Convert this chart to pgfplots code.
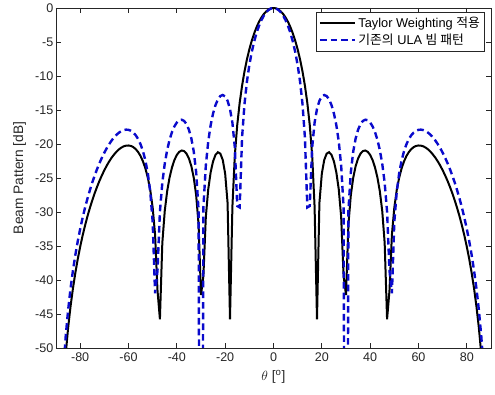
\documentclass[border=0pt]{standalone}
\usepackage{fontspec}
\setmainfont{Liberation Sans}
\newfontfamily\kr{Noto Sans CJK KR}
\usepackage{pgfplots}
\usepackage{pgfplotstable}
\pgfplotsset{compat=1.18}
\definecolor{axgray}{rgb}{0.15,0.15,0.15}
\definecolor{ulablue}{rgb}{0.04,0.04,0.8}

\pgfplotstableread{
t u p
-89 -72.40 -75.00
-88 -60.39 -63.01
-87 -53.34 -55.97
-86 -48.35 -50.97
-85 -44.47 -47.10
-84 -41.31 -43.94
-83 -38.64 -41.27
-82 -36.33 -38.96
-81 -34.31 -36.93
-80 -32.50 -35.12
-79 -30.87 -33.49
-78 -29.39 -32.01
-77 -28.05 -30.66
-76 -26.82 -29.43
-75 -25.68 -28.30
-74 -24.65 -27.25
-73 -23.69 -26.29
-72 -22.81 -25.41
-71 -22.01 -24.60
-70 -21.28 -23.86
-69 -20.62 -23.18
-68 -20.03 -22.57
-67 -19.50 -22.03
-66 -19.04 -21.56
-65 -18.66 -21.15
-64 -18.35 -20.81
-63 -18.11 -20.54
-62 -17.96 -20.35
-61 -17.89 -20.24
-60 -17.92 -20.22
-59 -18.06 -20.29
-58 -18.32 -20.46
-57 -18.72 -20.76
-56 -19.28 -21.19
-55 -20.05 -21.78
-54 -21.07 -22.57
-53 -22.45 -23.60
-52 -24.32 -24.96
-51 -27.03 -26.78
-50 -31.43 -29.35
-49 -41.96 -33.33
-48 -38.64 -41.53
-47 -29.95 -45.77
-46 -25.69 -34.54
-45 -22.90 -29.86
-44 -20.89 -26.95
-43 -19.38 -24.92
-42 -18.24 -23.44
-41 -17.41 -22.36
-40 -16.84 -21.61
-39 -16.51 -21.15
-38 -16.43 -20.96
-37 -16.61 -21.04
-36 -17.08 -21.42
-35 -17.90 -22.13
-34 -19.18 -23.25
-33 -21.10 -24.95
-32 -24.14 -27.53
-31 -29.78 -31.84
-30 -150.00 -42.20
-29 -29.28 -39.39
-28 -23.15 -30.72
-27 -19.62 -26.65
-26 -17.23 -24.16
-25 -15.51 -22.55
-24 -14.28 -21.60
-23 -13.44 -21.21
-22 -12.95 -21.42
-21 -12.80 -22.34
-20 -13.01 -24.36
-19 -13.65 -28.67
-18 -14.85 -45.78
-17 -16.88 -29.18
-16 -20.51 -21.66
-15 -29.12 -17.20
-14 -29.33 -13.96
-13 -19.03 -11.42
-12 -14.13 -9.33
-11 -10.85 -7.58
-10 -8.41 -6.09
-9 -6.48 -4.82
-8 -4.93 -3.74
-7 -3.66 -2.82
-6 -2.62 -2.04
-5 -1.79 -1.40
-4 -1.13 -0.89
-3 -0.63 -0.50
-2 -0.28 -0.22
-1 -0.07 -0.05
0 0.00 0.00
1 -0.07 -0.05
2 -0.28 -0.22
3 -0.63 -0.50
4 -1.13 -0.89
5 -1.79 -1.40
6 -2.62 -2.04
7 -3.66 -2.82
8 -4.93 -3.74
9 -6.48 -4.82
10 -8.41 -6.09
11 -10.85 -7.58
12 -14.13 -9.33
13 -19.03 -11.42
14 -29.33 -13.96
15 -29.12 -17.20
16 -20.51 -21.66
17 -16.88 -29.18
18 -14.85 -45.78
19 -13.65 -28.67
20 -13.01 -24.36
21 -12.80 -22.34
22 -12.95 -21.42
23 -13.44 -21.21
24 -14.28 -21.60
25 -15.51 -22.55
26 -17.23 -24.16
27 -19.62 -26.65
28 -23.15 -30.72
29 -29.28 -39.39
30 -150.00 -42.20
31 -29.78 -31.84
32 -24.14 -27.53
33 -21.10 -24.95
34 -19.18 -23.25
35 -17.90 -22.13
36 -17.08 -21.42
37 -16.61 -21.04
38 -16.43 -20.96
39 -16.51 -21.15
40 -16.84 -21.61
41 -17.41 -22.36
42 -18.24 -23.44
43 -19.38 -24.92
44 -20.89 -26.95
45 -22.90 -29.86
46 -25.69 -34.54
47 -29.95 -45.77
48 -38.64 -41.53
49 -41.96 -33.33
50 -31.43 -29.35
51 -27.03 -26.78
52 -24.32 -24.96
53 -22.45 -23.60
54 -21.07 -22.57
55 -20.05 -21.78
56 -19.28 -21.19
57 -18.72 -20.76
58 -18.32 -20.46
59 -18.06 -20.29
60 -17.92 -20.22
61 -17.89 -20.24
62 -17.96 -20.35
63 -18.11 -20.54
64 -18.35 -20.81
65 -18.66 -21.15
66 -19.04 -21.56
67 -19.50 -22.03
68 -20.03 -22.57
69 -20.62 -23.18
70 -21.28 -23.86
71 -22.01 -24.60
72 -22.81 -25.41
73 -23.69 -26.29
74 -24.65 -27.25
75 -25.68 -28.30
76 -26.82 -29.43
77 -28.05 -30.66
78 -29.39 -32.01
79 -30.87 -33.49
80 -32.50 -35.12
81 -34.31 -36.93
82 -36.33 -38.96
83 -38.64 -41.27
84 -41.31 -43.94
85 -44.47 -47.10
86 -48.35 -50.97
87 -53.34 -55.97
88 -60.39 -63.01
89 -72.40 -75.00
}\beamdata

\begin{document}
\begin{tikzpicture}
\begin{axis}[
  scale only axis,
  width=326.25pt, height=255pt,
  xmin=-90, xmax=90, ymin=-50, ymax=0,
  xtick={-80,-60,-40,-20,0,20,40,60,80},
  xticklabels={-80,-60,-40,-20,0,20,40,60,80},
  ytick={-50,-45,-40,-35,-30,-25,-20,-15,-10,-5,0},
  yticklabels={-50,-45,-40,-35,-30,-25,-20,-15,-10,-5,0},
  tick label style={font=\fontsize{9.4}{11}\selectfont, text=axgray},
  yticklabel style={xshift=1.5pt},
  label style={font=\fontsize{10.3}{12}\selectfont, text=axgray},
  xlabel={$\theta$ [\textsuperscript{o}]},
  ylabel={Beam Pattern [dB]},
  axis line style={axgray, line width=0.5pt},
  tick style={axgray, line width=0.5pt},
  major tick length=4pt,
  legend cell align=left,
  legend style={at={(0.986,0.988)}, anchor=north east, draw=axgray, line width=0.5pt,
    font=\fontsize{9.6}{11}\selectfont, inner sep=1.5pt, row sep=-1pt},
  legend image code/.code={\draw[#1] (0pt,0pt) -- (26pt,0pt);},
]
\addplot[black, line width=1.5pt] table[x=t,y=p] {\beamdata};
\addlegendentry{Taylor Weighting {\kr 적용}}
\addplot[ulablue, line width=1.8pt, dash pattern=on 5pt off 3pt] table[x=t,y=u] {\beamdata};
\addlegendentry{{\kr 기존의} ULA {\kr 빔 패턴}}
\end{axis}
\pgfresetboundingbox
\path[use as bounding box] (-42pt,-35.25pt) rectangle (329.25pt,261pt);
\end{tikzpicture}
\end{document}
